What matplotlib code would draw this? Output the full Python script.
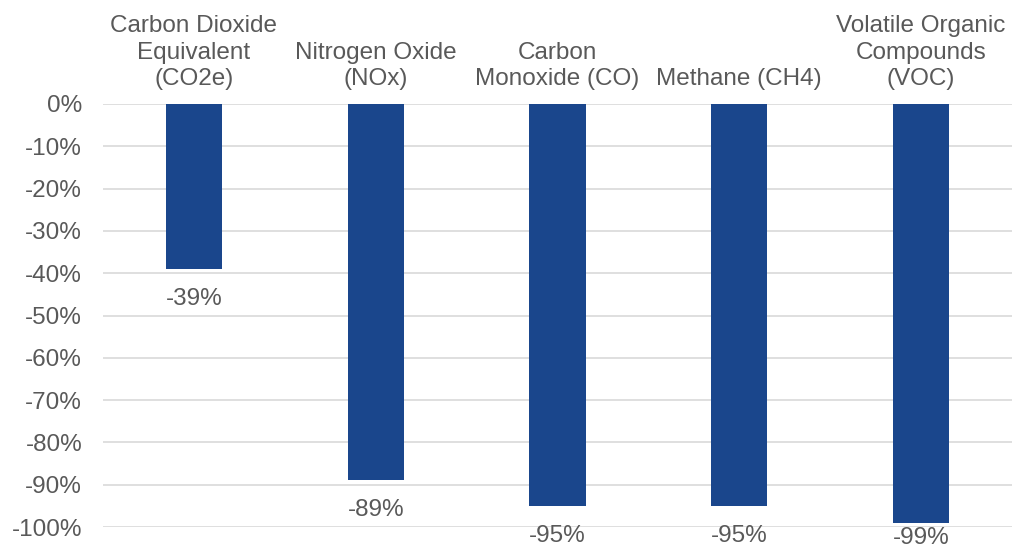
import matplotlib.pyplot as plt
import numpy as np

plt.rcParams['font.family'] = ['Liberation Sans', 'DejaVu Sans']

# Reducción de emisiones por contaminante
categories = ['Carbon Dioxide\nEquivalent\n(CO2e)', 'Nitrogen Oxide\n(NOx)',
              'Carbon\nMonoxide (CO)', 'Methane (CH4)',
              'Volatile Organic\nCompounds\n(VOC)']
changes = [-39, -89, -95, -95, -99]

gray = '#595959'
bar_color = '#1A468C'
fs = 17.5

fig = plt.figure(figsize=(10.15, 5.51), dpi=100)
ax = fig.add_axes([103 / 1015, 1 - 527 / 551, 909 / 1015, 423 / 551])

x = np.arange(len(categories))
bars = ax.bar(x, changes, width=0.31, color=bar_color, zorder=3)

ax.set_xlim(-0.5, len(categories) - 0.5)
ax.set_ylim(-100, 0)
ax.set_yticks(np.arange(-100, 1, 10))
ax.set_yticklabels([f'{v}%' for v in range(-100, 1, 10)])
ax.grid(axis='y', color='#D9D9D9', linewidth=1.2, zorder=0)
ax.tick_params(axis='y', length=0, pad=15, labelsize=fs, labelcolor=gray)

# Etiquetas de categoría arriba
ax.xaxis.tick_top()
ax.set_xticks(x)
ax.set_xticklabels(categories, linespacing=1.27)
ax.tick_params(axis='x', length=0, pad=10, labelsize=fs, labelcolor=gray)

for s in ax.spines.values():
    s.set_visible(False)

# Etiquetas de valor bajo cada barra; se suben si no caben en la figura
for xi, v in zip(x, changes):
    y_pt = ax.transData.transform((xi, v))[1] * 72 / fig.dpi
    off = max(-13.5, -(y_pt - fs))
    ax.annotate(f'{v}%', (xi, v), xytext=(0, off), textcoords='offset points',
                ha='center', va='top', fontsize=fs, color=gray,
                annotation_clip=False)

fig.savefig('out.png', dpi=100)
